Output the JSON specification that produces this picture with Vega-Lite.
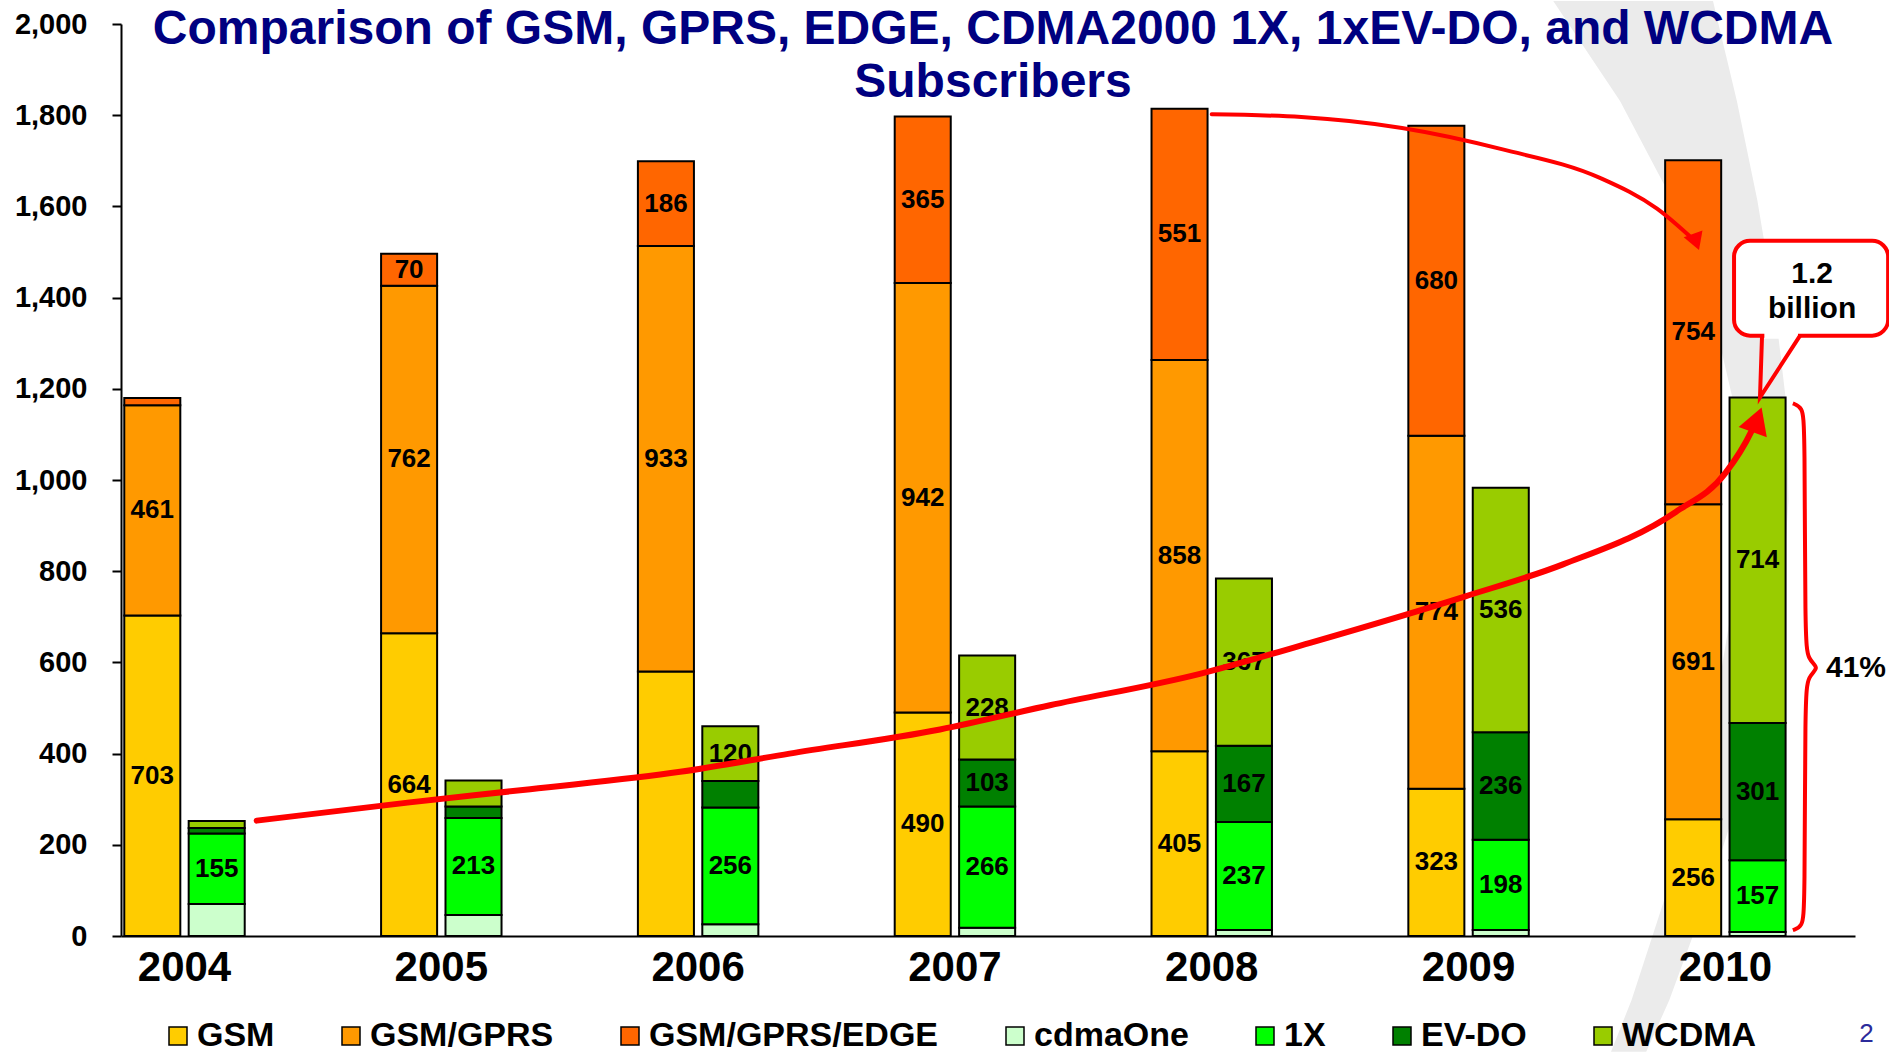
{
  "$schema": "https://vega.github.io/schema/vega-lite/v6.json",
  "width": 1734,
  "height": 912,
  "autosize": {"type": "none"},
  "padding": {"left": 121, "top": 24, "right": 34, "bottom": 116},
  "background": "white",
  "title": {
    "text": ["Comparison of GSM, GPRS, EDGE, CDMA2000 1X, 1xEV-DO, and WCDMA", "Subscribers"],
    "font": "Liberation Sans",
    "fontSize": 48,
    "fontWeight": "bold",
    "color": "#000080",
    "lineHeight": 53,
    "anchor": "middle",
    "frame": "group",
    "offset": -106,
    "dx": 5
  },
  "datasets": {
    "bars": [
      {"year": "2004", "family": "GSM family", "type": "GSM", "value": 703, "shown": true},
      {"year": "2004", "family": "GSM family", "type": "GSM/GPRS", "value": 461, "shown": true},
      {"year": "2004", "family": "GSM family", "type": "GSM/GPRS/EDGE", "value": 16, "shown": false},
      {"year": "2004", "family": "CDMA family", "type": "cdmaOne", "value": 70, "shown": false},
      {"year": "2004", "family": "CDMA family", "type": "1X", "value": 155, "shown": true},
      {"year": "2004", "family": "CDMA family", "type": "EV-DO", "value": 12, "shown": false},
      {"year": "2004", "family": "CDMA family", "type": "WCDMA", "value": 15, "shown": false},
      {"year": "2005", "family": "GSM family", "type": "GSM", "value": 664, "shown": true},
      {"year": "2005", "family": "GSM family", "type": "GSM/GPRS", "value": 762, "shown": true},
      {"year": "2005", "family": "GSM family", "type": "GSM/GPRS/EDGE", "value": 70, "shown": true},
      {"year": "2005", "family": "CDMA family", "type": "cdmaOne", "value": 46, "shown": false},
      {"year": "2005", "family": "CDMA family", "type": "1X", "value": 213, "shown": true},
      {"year": "2005", "family": "CDMA family", "type": "EV-DO", "value": 25, "shown": false},
      {"year": "2005", "family": "CDMA family", "type": "WCDMA", "value": 57, "shown": false},
      {"year": "2006", "family": "GSM family", "type": "GSM", "value": 580, "shown": false},
      {"year": "2006", "family": "GSM family", "type": "GSM/GPRS", "value": 933, "shown": true},
      {"year": "2006", "family": "GSM family", "type": "GSM/GPRS/EDGE", "value": 186, "shown": true},
      {"year": "2006", "family": "CDMA family", "type": "cdmaOne", "value": 26, "shown": false},
      {"year": "2006", "family": "CDMA family", "type": "1X", "value": 256, "shown": true},
      {"year": "2006", "family": "CDMA family", "type": "EV-DO", "value": 58, "shown": false},
      {"year": "2006", "family": "CDMA family", "type": "WCDMA", "value": 120, "shown": true},
      {"year": "2007", "family": "GSM family", "type": "GSM", "value": 490, "shown": true},
      {"year": "2007", "family": "GSM family", "type": "GSM/GPRS", "value": 942, "shown": true},
      {"year": "2007", "family": "GSM family", "type": "GSM/GPRS/EDGE", "value": 365, "shown": true},
      {"year": "2007", "family": "CDMA family", "type": "cdmaOne", "value": 18, "shown": false},
      {"year": "2007", "family": "CDMA family", "type": "1X", "value": 266, "shown": true},
      {"year": "2007", "family": "CDMA family", "type": "EV-DO", "value": 103, "shown": true},
      {"year": "2007", "family": "CDMA family", "type": "WCDMA", "value": 228, "shown": true},
      {"year": "2008", "family": "GSM family", "type": "GSM", "value": 405, "shown": true},
      {"year": "2008", "family": "GSM family", "type": "GSM/GPRS", "value": 858, "shown": true},
      {"year": "2008", "family": "GSM family", "type": "GSM/GPRS/EDGE", "value": 551, "shown": true},
      {"year": "2008", "family": "CDMA family", "type": "cdmaOne", "value": 13, "shown": false},
      {"year": "2008", "family": "CDMA family", "type": "1X", "value": 237, "shown": true},
      {"year": "2008", "family": "CDMA family", "type": "EV-DO", "value": 167, "shown": true},
      {"year": "2008", "family": "CDMA family", "type": "WCDMA", "value": 367, "shown": true},
      {"year": "2009", "family": "GSM family", "type": "GSM", "value": 323, "shown": true},
      {"year": "2009", "family": "GSM family", "type": "GSM/GPRS", "value": 774, "shown": true},
      {"year": "2009", "family": "GSM family", "type": "GSM/GPRS/EDGE", "value": 680, "shown": true},
      {"year": "2009", "family": "CDMA family", "type": "cdmaOne", "value": 13, "shown": false},
      {"year": "2009", "family": "CDMA family", "type": "1X", "value": 198, "shown": true},
      {"year": "2009", "family": "CDMA family", "type": "EV-DO", "value": 236, "shown": true},
      {"year": "2009", "family": "CDMA family", "type": "WCDMA", "value": 536, "shown": true},
      {"year": "2010", "family": "GSM family", "type": "GSM", "value": 256, "shown": true},
      {"year": "2010", "family": "GSM family", "type": "GSM/GPRS", "value": 691, "shown": true},
      {"year": "2010", "family": "GSM family", "type": "GSM/GPRS/EDGE", "value": 754, "shown": true},
      {"year": "2010", "family": "CDMA family", "type": "cdmaOne", "value": 9, "shown": false},
      {"year": "2010", "family": "CDMA family", "type": "1X", "value": 157, "shown": true},
      {"year": "2010", "family": "CDMA family", "type": "EV-DO", "value": 301, "shown": true},
      {"year": "2010", "family": "CDMA family", "type": "WCDMA", "value": 714, "shown": true}
    ],
    "swoosh": [
      {"y": 2050.4, "xl": 2009.330, "xr": 2009.952},
      {"y": 1831.3, "xl": 2009.590, "xr": 2010.045},
      {"y": 1612.3, "xl": 2009.795, "xr": 2010.125},
      {"y": 1393.2, "xl": 2009.940, "xr": 2010.190},
      {"y": 1174.2, "xl": 2010.030, "xr": 2010.236},
      {"y": 955.1, "xl": 2010.050, "xr": 2010.246},
      {"y": 736.0, "xl": 2010.030, "xr": 2010.221},
      {"y": 517.0, "xl": 2009.965, "xr": 2010.155},
      {"y": 297.9, "xl": 2009.875, "xr": 2010.049},
      {"y": 78.9, "xl": 2009.762, "xr": 2009.925},
      {"y": -140.2, "xl": 2009.635, "xr": 2009.782},
      {"y": -254.1, "xl": 2009.555, "xr": 2009.692}
    ],
    "arrow1": [
      {"i": 0, "x": 2004.281, "y": 253},
      {"i": 1, "x": 2004.877, "y": 293},
      {"i": 2, "x": 2005.346, "y": 322},
      {"i": 3, "x": 2005.93, "y": 360},
      {"i": 4, "x": 2006.356, "y": 400},
      {"i": 5, "x": 2006.942, "y": 453},
      {"i": 6, "x": 2007.37, "y": 506},
      {"i": 7, "x": 2007.954, "y": 575},
      {"i": 8, "x": 2008.383, "y": 643},
      {"i": 9, "x": 2008.988, "y": 745},
      {"i": 10, "x": 2009.368, "y": 815},
      {"i": 11, "x": 2009.807, "y": 930},
      {"i": 12, "x": 2010.0, "y": 1015},
      {"i": 13, "x": 2010.1, "y": 1105},
      {"i": 14, "x": 2010.12, "y": 1130}
    ],
    "arrow2": [
      {"i": 0, "x": 2008.0, "y": 1802},
      {"i": 1, "x": 2008.349, "y": 1796},
      {"i": 2, "x": 2008.741, "y": 1772},
      {"i": 3, "x": 2009.133, "y": 1725},
      {"i": 4, "x": 2009.514, "y": 1662},
      {"i": 5, "x": 2009.734, "y": 1595},
      {"i": 6, "x": 2009.88, "y": 1525}
    ],
    "brace": [
      {"i": 0, "x": 2010.263, "y": 1168},
      {"i": 1, "x": 2010.300, "y": 1160},
      {"i": 2, "x": 2010.310, "y": 1120},
      {"i": 3, "x": 2010.310, "y": 650},
      {"i": 4, "x": 2010.322, "y": 605},
      {"i": 5, "x": 2010.368, "y": 588},
      {"i": 6, "x": 2010.322, "y": 571},
      {"i": 7, "x": 2010.310, "y": 525},
      {"i": 8, "x": 2010.310, "y": 60},
      {"i": 9, "x": 2010.300, "y": 20},
      {"i": 10, "x": 2010.263, "y": 13}
    ],
    "pointer": [
      {"i": 0, "x": 2010.143, "y": 1316.6},
      {"i": 1, "x": 2010.135, "y": 1181},
      {"i": 2, "x": 2010.291, "y": 1316.6}
    ],
    "heads": [
      {"h": "a", "x": 2010.124, "y": 1132},
      {"h": "b", "x": 2009.886, "y": 1522}
    ],
    "box": [{"x": 2010.034, "x2": 2010.634, "y": 1316.6, "y2": 1524.6}],
    "gap": [{"x": 2010.152, "x2": 2010.283, "y": 1316.6}],
    "notes": [
      {"k": "call", "t": "1.2", "x": 2010.338, "y": 1452},
      {"k": "call", "t": "billion", "x": 2010.338, "y": 1376},
      {"k": "pct", "t": "41%", "x": 2010.392, "y": 588},
      {"k": "page", "t": "2", "x": 2010.55, "y": -215}
    ]
  },
  "layer": [
    {
      "data": {"name": "swoosh"},
      "mark": {"type": "area", "orient": "horizontal", "color": "#ebebeb"},
      "encoding": {
        "y": {"field": "y", "type": "quantitative", "scale": {"domain": [0, 2000]}, "axis": null},
        "x": {"field": "xl", "type": "quantitative", "scale": {"domain": [2003.7527, 2010.505], "nice": false, "zero": false}, "axis": null},
        "x2": {"field": "xr"}
      }
    },
    {
      "data": {"name": "bars"},
      "transform": [
        {"calculate": "indexof(['GSM','GSM/GPRS','GSM/GPRS/EDGE','cdmaOne','1X','EV-DO','WCDMA'], datum.type)", "as": "ord"},
        {"stack": "value", "groupby": ["year", "family"], "sort": [{"field": "ord", "order": "ascending"}], "as": ["v0", "v1"]},
        {"calculate": "(datum.v0 + datum.v1) / 2", "as": "mid"}
      ],
      "encoding": {
        "x": {
          "field": "year", "type": "nominal",
          "scale": {"paddingInner": 0.531, "paddingOuter": 0.1415, "align": 0.045},
          "axis": {"title": null, "labelAngle": 0, "ticks": false, "tickSize": 0, "domainColor": "black", "domainWidth": 2, "labelFont": "Liberation Sans", "labelFontSize": 42, "labelFontWeight": "bold", "labelColor": "black", "labelPadding": 11, "zindex": 1}
        },
        "xOffset": {"field": "family", "type": "nominal", "sort": ["GSM family", "CDMA family"], "scale": {"paddingInner": 0.13, "paddingOuter": 0}}
      },
      "layer": [
        {
          "mark": {"type": "bar", "stroke": "black", "strokeWidth": 2},
          "encoding": {
            "y": {
              "field": "v0", "type": "quantitative", "scale": {"domain": [0, 2000]},
              "axis": {"title": null, "values": [0, 200, 400, 600, 800, 1000, 1200, 1400, 1600, 1800, 2000], "format": ",.0f", "grid": false, "domainColor": "black", "domainWidth": 2, "tickColor": "black", "tickWidth": 2, "tickSize": 9, "labelFont": "Liberation Sans", "labelFontSize": 29, "labelFontWeight": "bold", "labelColor": "black", "labelPadding": 25}
            },
            "y2": {"field": "v1"},
            "color": {
              "field": "type", "type": "nominal",
              "scale": {
                "domain": ["GSM", "GSM/GPRS", "GSM/GPRS/EDGE", "cdmaOne", "1X", "EV-DO", "WCDMA"],
                "range": ["#FFCC00", "#FF9900", "#FF6600", "#CCFFCC", "#00FF00", "#008000", "#99CC00"]
              },
              "legend": {
                "title": null, "orient": "none", "direction": "horizontal", "legendX": 40, "legendY": 995,
                "symbolType": "square", "symbolSize": 324, "symbolStrokeColor": "black", "symbolStrokeWidth": 1.5, "symbolOpacity": 1,
                "labelFont": "Liberation Sans", "labelFontSize": 34, "labelFontWeight": "bold", "labelColor": "black",
                "labelOffset": 2, "columnPadding": 59, "padding": 0, "labelLimit": 400
              }
            }
          }
        },
        {
          "transform": [{"filter": "datum.shown"}],
          "mark": {"type": "text", "font": "Liberation Sans", "fontSize": 26, "fontWeight": "bold", "color": "black", "align": "center", "baseline": "middle"},
          "encoding": {
            "y": {"field": "mid", "type": "quantitative", "scale": {"domain": [0, 2000]}},
            "text": {"field": "value", "type": "quantitative"}
          }
        }
      ]
    },
    {
      "encoding": {
        "x": {"field": "x", "type": "quantitative", "scale": {"domain": [2003.7527, 2010.505], "nice": false, "zero": false}, "axis": null},
        "y": {"field": "y", "type": "quantitative", "scale": {"domain": [0, 2000]}, "axis": null}
      },
      "layer": [
        {
          "data": {"name": "arrow1"},
          "mark": {"type": "line", "color": "#ff0000", "strokeWidth": 6, "interpolate": "monotone", "strokeCap": "round"},
          "encoding": {"order": {"field": "i", "type": "quantitative"}}
        },
        {
          "data": {"name": "arrow2"},
          "mark": {"type": "line", "color": "#ff0000", "strokeWidth": 4, "interpolate": "monotone", "strokeCap": "round"},
          "encoding": {"order": {"field": "i", "type": "quantitative"}}
        },
        {
          "data": {"name": "heads"},
          "transform": [{"filter": "datum.h == 'a'"}],
          "mark": {"type": "point", "shape": "triangle-up", "filled": true, "color": "#ff0000", "opacity": 1, "size": 900, "angle": 20},
          "encoding": {}
        },
        {
          "data": {"name": "heads"},
          "transform": [{"filter": "datum.h == 'b'"}],
          "mark": {"type": "point", "shape": "triangle-up", "filled": true, "color": "#ff0000", "opacity": 1, "size": 400, "angle": 160},
          "encoding": {}
        },
        {
          "data": {"name": "box"},
          "mark": {"type": "rect", "fill": "white", "stroke": "#ff0000", "strokeWidth": 4, "cornerRadius": 16},
          "encoding": {"x2": {"field": "x2"}, "y2": {"field": "y2"}}
        },
        {
          "data": {"name": "gap"},
          "mark": {"type": "rule", "color": "white", "strokeWidth": 6},
          "encoding": {"x2": {"field": "x2"}}
        },
        {
          "data": {"name": "pointer"},
          "mark": {"type": "line", "color": "#ff0000", "strokeWidth": 4, "strokeJoin": "miter"},
          "encoding": {"order": {"field": "i", "type": "quantitative"}}
        },
        {
          "data": {"name": "brace"},
          "mark": {"type": "line", "color": "#ff0000", "strokeWidth": 4, "interpolate": "basis"},
          "encoding": {"order": {"field": "i", "type": "quantitative"}}
        },
        {
          "data": {"name": "notes"},
          "transform": [{"filter": "datum.k == 'call'"}],
          "mark": {"type": "text", "font": "Liberation Sans", "fontSize": 30, "fontWeight": "bold", "color": "black", "align": "center", "baseline": "middle"},
          "encoding": {"text": {"field": "t"}}
        },
        {
          "data": {"name": "notes"},
          "transform": [{"filter": "datum.k == 'pct'"}],
          "mark": {"type": "text", "font": "Liberation Sans", "fontSize": 30, "fontWeight": "bold", "color": "black", "align": "left", "baseline": "middle"},
          "encoding": {"text": {"field": "t"}}
        },
        {
          "data": {"name": "notes"},
          "transform": [{"filter": "datum.k == 'page'"}],
          "mark": {"type": "text", "font": "Liberation Sans", "fontSize": 26, "color": "#2b2b9b", "align": "center", "baseline": "middle"},
          "encoding": {"text": {"field": "t"}}
        }
      ]
    }
  ],
  "resolve": {"scale": {"x": "independent"}, "axis": {"y": "independent"}},
  "config": {
    "font": "Liberation Sans",
    "view": {"stroke": null}
  }
}
